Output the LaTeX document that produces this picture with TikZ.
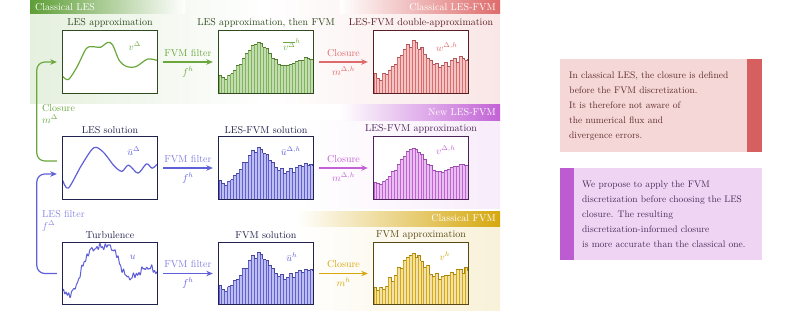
\documentclass[tikz,border=0pt]{standalone}
\usepackage{tikz}
\usetikzlibrary{positioning,calc,arrows.meta}
\definecolor{lesgreen}{HTML}{6AA83E}
\definecolor{hdgreen}{HTML}{5E9E36}
\definecolor{fvmred}{HTML}{DE6B6B}
\definecolor{newpurple}{HTML}{C262D6}
\definecolor{fvmgold}{HTML}{D6A80E}
\definecolor{solblue}{HTML}{5F5FD8}
\definecolor{frgreen}{HTML}{2E4A1E}
\definecolor{frred}{HTML}{5A1E22}
\definecolor{frnavy}{HTML}{22224E}
\definecolor{frpurple}{HTML}{4C2258}
\definecolor{frgold}{HTML}{5A4812}
\definecolor{notered}{HTML}{F5D7D7}
\definecolor{notebarred}{HTML}{D65F5F}
\definecolor{notetxtred}{HTML}{5E2A2A}
\definecolor{notepurple}{HTML}{EFD4F3}
\definecolor{notebarpurple}{HTML}{BC5CD0}
\definecolor{notetxtpurple}{HTML}{4A2A5A}

% cell-averaged profile inside a panel: #1 panel, #2 fill, #3 edges, #4 top, #5 jitter, #6 phase
\newcommand{\histo}[6]{%
  \begin{scope}[shift={(#1.south west)}, x=94pt, y=62pt]
    \foreach \i in {0,...,31}{
      \pgfmathsetmacro\hcur{prof((\i+0.5)/32)+#5*sin(\i*137+#6)+0.6*#5*sin(\i*251+2*#6)}
      \pgfmathsetmacro\hnxt{prof((\i+1.5)/32)+#5*sin((\i+1)*137+#6)+0.6*#5*sin((\i+1)*251+2*#6)}
      \fill[#2] (\i/32,0) rectangle ({(\i+1)/32},\hcur);
      \draw[#3, line width=0.5pt] (\i/32,0) -- (\i/32,\hcur);
      \draw[#4, line width=0.8pt] (\i/32,\hcur) -- ({(\i+1)/32},\hcur) -- ({(\i+1)/32},\hnxt);
    }
  \end{scope}}

\begin{document}
\begin{tikzpicture}[x=1pt, y=-1pt,
  panel/.style={fill=white, minimum width=94pt, minimum height=62pt, inner sep=0pt},
  title/.style={inner sep=1pt},
  flow/.style={line width=1.2pt, -{Stealth[length=6.5pt, width=5.5pt]}},
  feedback/.style={line width=1.2pt, rounded corners=8pt,
                   -{Stealth[length=6.5pt, width=5.5pt]}},
  lab/.style={inner sep=1pt},
  curve/.style={line width=1.2pt, line join=round},
  hdtext/.style={text=white, inner sep=1pt},
  notebox/.style={minimum width=202pt, inner sep=0pt, anchor=north west},
  notetext/.style={align=left, anchor=west, inner sep=0pt,
                   font=\fontsize{9.5}{15}\selectfont},
  declare function={
    prof(\t)=0.28+0.53*exp(-(\t-0.42)*(\t-0.42)/0.0361)
             +0.28*exp(-(\t-0.95)*(\t-0.95)/0.0625)
             -0.06*exp(-(\t-0.08)*(\t-0.08)/0.0025);
    turb(\t)=0.2+0.2*\t
             +0.64*exp(-((\t-0.4)*(\t-0.4)/0.0484)*((\t-0.4)*(\t-0.4)/0.0484))
             +0.12*exp(-(\t-0.9)*(\t-0.9)/0.01)
             +0.1*exp(-(\t-0.85)*(\t-0.85)/0.09)
             -0.05*exp(-(\t-0.08)*(\t-0.08)/0.003)
             +0.018*sin(13000*\t)+0.022*sin(7300*\t+40)
             +0.012*sin(11100*\t+70)+0.02*sin(3900*\t+10);
  },
]
\useasboundingbox (0,0) rectangle (794,318);

% Row backgrounds and their header strips.
\shade[left color=lesgreen!17, right color=white] (30,0) rectangle (265,104);
\shade[left color=white, right color=fvmred!17] (265,0) rectangle (500,104);
\shade[left color=white, right color=newpurple!12] (300,120) rectangle (500,208);
\shade[left color=white, right color=fvmgold!16] (297,226) rectangle (500,310);
\shade[left color=hdgreen, right color=white] (30,0) rectangle (185,14);
\shade[left color=white, right color=fvmred] (340,0) rectangle (500,14);
\shade[left color=white, right color=newpurple] (340,105) rectangle (500,120);
\shade[left color=white, right color=fvmgold] (297,211) rectangle (500,226);
\node[hdtext, anchor=west] (hdles) at (34,7) {Classical LES};
\node[hdtext, anchor=east] (hdlesfvm) at (497,7) {Classical LES-FVM};
\node[hdtext, anchor=east] (hdnew) at (497,112.5) {New LES-FVM};
\node[hdtext, anchor=east] (hdfvm) at (497,218.5) {Classical FVM};

% Panels, three rows by three columns.
\node[panel] (a1) at (110,62) {};
\node[panel] (a2) at (266,62) {};
\node[panel] (a3) at (421,62) {};
\node[panel] (b1) at (110,168) {};
\node[panel] (b2) at (266,168) {};
\node[panel] (b3) at (421,168) {};
\node[panel] (c1) at (110,273.5) {};
\node[panel] (c2) at (266,273.5) {};
\node[panel] (c3) at (421,273.5) {};

\node[title, above=2pt of a1, text=frgreen] (ta1) {LES approximation};
\node[title, above=2pt of a2, text=frgreen] (ta2) {LES approximation, then FVM};
\node[title, above=2pt of a3, text=frred] (ta3) {LES-FVM double-approximation};
\node[title, above=2pt of b1, text=frnavy] (tb1) {LES solution};
\node[title, above=2pt of b2, text=frnavy] (tb2) {LES-FVM solution};
\node[title, above=2pt of b3, text=frpurple] (tb3) {LES-FVM approximation};
\node[title, above=2pt of c1, text=frnavy] (tc1) {Turbulence};
\node[title, above=2pt of c2, text=frnavy] (tc2) {FVM solution};
\node[title, above=2pt of c3, text=frgold] (tc3) {FVM approximation};

% Continuous fields.
\begin{scope}[shift={(a1.south west)}, x=94pt, y=62pt]
  \draw[curve, lesgreen] plot[smooth] coordinates {(0,0.27) (0.06,0.22)
    (0.15,0.42) (0.25,0.72) (0.33,0.75) (0.4,0.74) (0.48,0.82) (0.53,0.78)
    (0.6,0.53) (0.68,0.43) (0.78,0.43) (0.9,0.55) (1,0.53)};
\end{scope}
\begin{scope}[shift={(b1.south west)}, x=94pt, y=62pt]
  \draw[curve, solblue] plot[smooth] coordinates {(0,0.3) (0.06,0.18)
    (0.2,0.55) (0.33,0.83) (0.43,0.76) (0.55,0.53) (0.63,0.45) (0.7,0.55)
    (0.8,0.42) (0.89,0.57) (0.95,0.5) (1,0.56)};
\end{scope}
\begin{scope}[shift={(c1.south west)}, x=94pt, y=62pt]
  \draw[curve, solblue, line width=1pt] plot[domain=0:1, samples=240] (\x, {turb(\x)});
\end{scope}

% Cell averages.
\histo{a2}{lesgreen!40}{lesgreen!85}{lesgreen!75!black}{0.012}{20}
\histo{a3}{fvmred!40}{fvmred}{fvmred!80!black}{0.035}{55}
\histo{b2}{solblue!40}{solblue}{solblue!75!black}{0.03}{80}
\histo{b3}{newpurple!40}{newpurple}{newpurple!80!black}{0.012}{10}
\histo{c2}{solblue!40}{solblue}{solblue!75!black}{0.03}{80}
\histo{c3}{fvmgold!35}{fvmgold}{fvmgold!80!black}{0.04}{130}

% Frames on top of the contents.
\foreach \b/\c in {a1/frgreen, a2/frgreen, a3/frred, b1/frnavy, b2/frnavy,
                   b3/frpurple, c1/frnavy, c2/frnavy, c3/frgold}
  \draw[\c, line width=1.1pt] (\b.south west) rectangle (\b.north east);

% Field labels.
\node[lab, text=lesgreen] (la1) at ([xshift=72pt, yshift=-15pt]a1.north west) {$v^\Delta$};
\node[lab, text=lesgreen] (la2) at ([xshift=73pt, yshift=-14pt]a2.north west) {$\overline{v^\Delta}^h$};
\node[lab, text=fvmred] (la3) at ([xshift=73pt, yshift=-16pt]a3.north west) {$w^{\Delta,h}$};
\node[lab, text=solblue] (lb1) at ([xshift=71pt, yshift=-14pt]b1.north west) {$\bar u^\Delta$};
\node[lab, text=solblue] (lb2) at ([xshift=72pt, yshift=-14pt]b2.north west) {$\bar u^{\Delta,h}$};
\node[lab, text=newpurple] (lb3) at ([xshift=72pt, yshift=-13pt]b3.north west) {$v^{\Delta,h}$};
\node[lab, text=solblue] (lc1) at ([xshift=70pt, yshift=-15pt]c1.north west) {$u$};
\node[lab, text=solblue] (lc2) at ([xshift=73pt, yshift=-15pt]c2.north west) {$\bar u^h$};
\node[lab, text=fvmgold] (lc3) at ([xshift=71pt, yshift=-14pt]c3.north west) {$v^h$};

% Filters and closures along each row.
\draw[flow, lesgreen] ([xshift=6pt]a1.east) -- ([xshift=-6pt]a2.west)
  node[lab, midway, above=4pt] (fa1) {FVM filter}
  node[lab, midway, below=3pt] (ga1) {$f^h$};
\draw[flow, fvmred] ([xshift=6pt]a2.east) -- ([xshift=-6pt]a3.west)
  node[lab, midway, above=4pt] (fa2) {Closure}
  node[lab, midway, below=3pt] (ga2) {$m^{\Delta,h}$};
\draw[flow, solblue] ([xshift=6pt]b1.east) -- ([xshift=-6pt]b2.west)
  node[lab, midway, above=4pt, text=solblue!80] (fb1) {FVM filter}
  node[lab, midway, below=3pt] (gb1) {$f^h$};
\draw[flow, newpurple] ([xshift=6pt]b2.east) -- ([xshift=-6pt]b3.west)
  node[lab, midway, above=4pt] (fb2) {Closure}
  node[lab, midway, below=3pt] (gb2) {$m^{\Delta,h}$};
\draw[flow, solblue] ([xshift=6pt]c1.east) -- ([xshift=-6pt]c2.west)
  node[lab, midway, above=4pt, text=solblue!80] (fc1) {FVM filter}
  node[lab, midway, below=3pt] (gc1) {$f^h$};
\draw[flow, fvmgold] ([xshift=6pt]c2.east) -- ([xshift=-6pt]c3.west)
  node[lab, midway, above=4pt] (fc2) {Closure}
  node[lab, midway, below=3pt] (gc2) {$m^h$};

% Feedback paths on the left.
\draw[feedback, lesgreen] ([xshift=-6pt, yshift=7pt]b1.west) -- ++(-20,0)
  |- ([xshift=-6pt]a1.west);
\node[lab, text=lesgreen, align=left, anchor=north west] (lclos) at (41,103)
  {Closure\\$m^\Delta$};
\draw[feedback, solblue] ([xshift=-6pt]c1.west) -- ++(-20,0)
  |- ([xshift=-6pt, yshift=-6pt]b1.west);
\node[lab, text=solblue!75, align=left, anchor=north west] (lfilt) at (41,209)
  {LES filter\\$f^\Delta$};

% Notes on the right.
\node[notebox, fill=notered, minimum height=93pt] (note1) at (560,59) {};
\fill[notebarred] ([xshift=-15pt]note1.north east) rectangle (note1.south east);
\node[notetext, text=notetxtred] (txt1) at ([xshift=9pt]note1.west)
  {In classical LES, the closure is defined\\
   before the FVM discretization.\\
   It is therefore not aware of\\
   the numerical flux and\\
   divergence errors.};
\node[notebox, fill=notepurple, minimum height=92pt] (note2) at (560,168) {};
\fill[notebarpurple] (note2.north west) rectangle ([xshift=14pt]note2.south west);
\node[notetext, text=notetxtpurple] (txt2) at ([xshift=22pt]note2.west)
  {We propose to apply the FVM\\
   discretization before choosing the LES\\
   closure. The resulting\\
   discretization-informed closure\\
   is more accurate than the classical one.};

\end{tikzpicture}
\end{document}
